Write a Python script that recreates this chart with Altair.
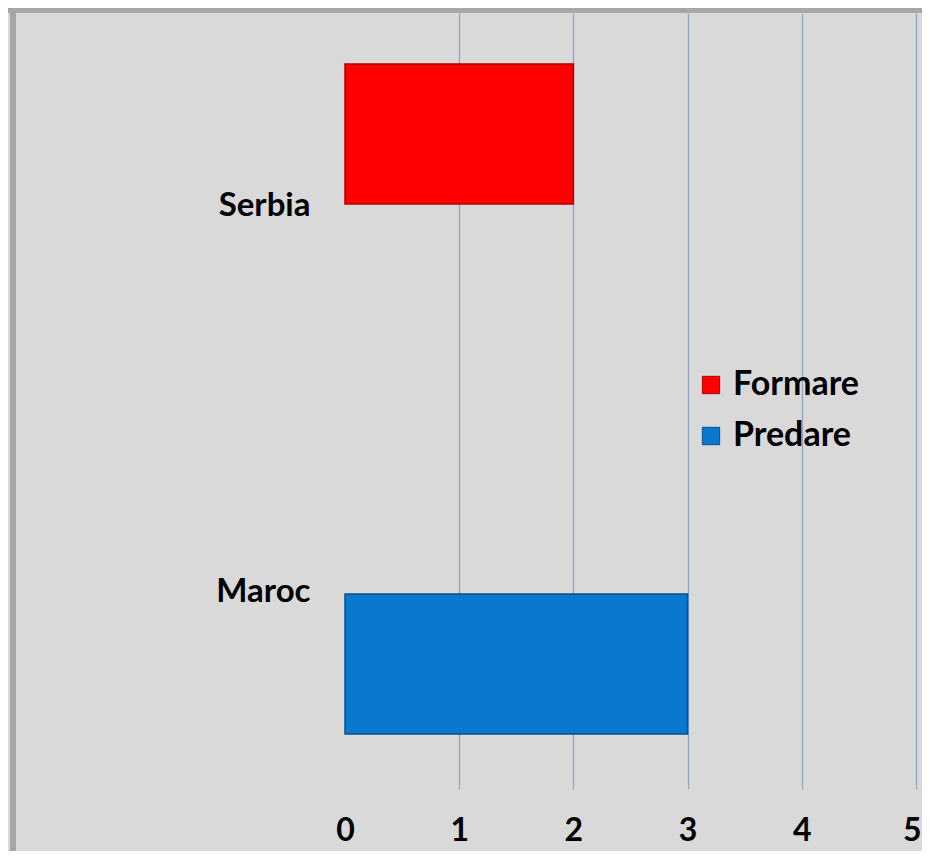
import altair as alt
import pandas as pd

countries = ["Serbia", "Serbia", "Maroc", "Maroc"]
series = ["Formare", "Predare", "Formare", "Predare"]
values = [2, 0, 0, 3]
x_ticks = [0, 1, 2, 3, 4, 5]
legend_order = ["Formare", "Predare"]
colors = ["#fe0000", "#0a78cf"]
strokes = ["#b00000", "#0a4f8a"]

df = pd.DataFrame({"country": countries, "series": series, "value": values})

FONT = "Lato"

bars = alt.Chart(df).transform_filter("datum.value > 0").mark_bar(
    strokeWidth=1.5
).encode(
    x=alt.X("value:Q",
            scale=alt.Scale(domain=[0, 5], nice=False, zero=True),
            axis=alt.Axis(values=x_ticks, title=None, domain=False,
                          labelFontSize=32, labelFontWeight="bold", labelFont=FONT,
                          labelColor="black", labelPadding=26,
                          labelAlign={"condition": {"test": "datum.value === 5", "value": "right"},
                                      "value": "center"},
                          labelOffset={"condition": {"test": "datum.value === 5", "value": 5},
                                       "value": 0},
                          tickSize=4,
                          tickColor={"condition": {"test": "datum.value === 0", "value": "transparent"},
                                     "value": "#8ea2c0"},
                          grid=True, gridWidth=1.2,
                          gridColor={"condition": {"test": "datum.value === 0", "value": "transparent"},
                                     "value": "#8ea2c0"},
                          labelFlush=False)),
    y=alt.Y("country:N", sort=["Serbia", "Maroc"],
            scale=alt.Scale(paddingInner=0.264, paddingOuter=0.132),
            axis=alt.Axis(title=None, domain=False, ticks=False, labelFontSize=33,
                          labelFontWeight="bold", labelFont=FONT, labelColor="black",
                          labelPadding=35)),
    yOffset=alt.YOffset("series:N", sort=legend_order,
                        scale=alt.Scale(paddingInner=0.028, paddingOuter=0)),
    color=alt.Color("series:N",
                    scale=alt.Scale(domain=legend_order, range=colors),
                    legend=alt.Legend(title=None, orient="none", legendX=349, legendY=355,
                                      symbolType="square", symbolSize=300,
                                      symbolStrokeWidth=1, symbolStrokeColor="#555555",
                                      labelFontSize=34, labelFontWeight="bold",
                                      labelFont=FONT, labelColor="black",
                                      rowPadding=17, labelOffset=5)),
    stroke=alt.Stroke("series:N", scale=alt.Scale(domain=legend_order, range=strokes),
                      legend=None),
)

frame_top = alt.Chart(df).mark_rule(color="#a6a6a6", strokeWidth=5).encode(
    x=alt.value(-337), x2=alt.value(577), y=alt.value(-3)
)
frame_left = alt.Chart(df).mark_rule(color="#a6a6a6", strokeWidth=6).encode(
    x=alt.value(-332), y=alt.value(-5), y2=alt.value(838)
)

chart = alt.layer(bars, frame_top, frame_left).properties(
    width=571, height=772,
    autosize=alt.AutoSizeParams(type="none"),
    padding={"left": 337, "top": 5, "right": 6, "bottom": 66},
    background="#d9d9d9",
).configure_view(stroke=None)

chart.save("out.html", embed_options={"renderer": "svg", "actions": False})
